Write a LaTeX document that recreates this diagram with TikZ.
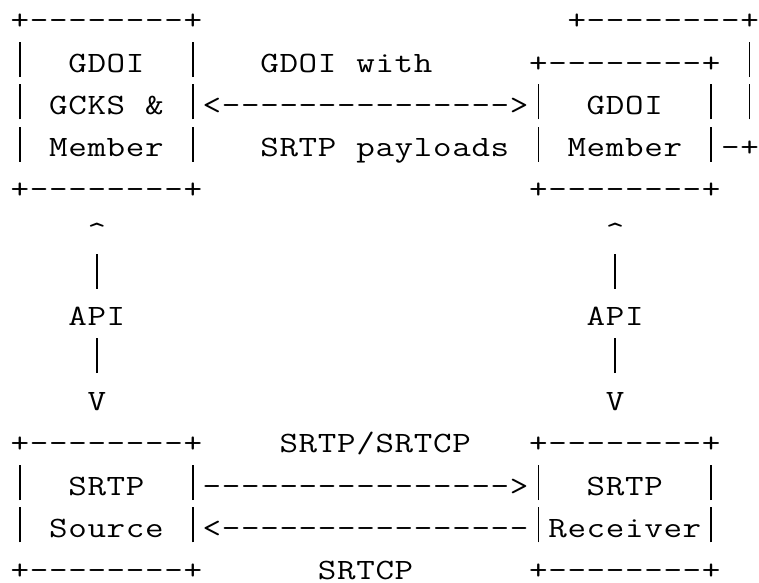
\documentclass[tikz,border=0pt]{standalone}
\usepackage{graphicx}
% fixed character grid: every glyph sits, slightly widened, in a cell of equal width;
% the vertical bar is drawn as a rule spanning almost the whole line
\newlength\cellw
\setlength\cellw{19.2pt}
\def\cellof#1{\makebox[\cellw][c]{\ifx#1|\rule[-5pt]{1.6pt}{35pt}\else\scalebox{1.22}[1]{#1}\fi}}
\def\gridrow#1{\ifx#1\relax\else\cellof{#1}\expandafter\gridrow\fi}
\newcommand\gr[1]{\gridrow#1\relax}
\newcommand\sk[1]{\hspace*{#1\cellw}}
\begin{document}
\begin{tikzpicture}[x=1pt,y=1pt,
  asciirow/.style={anchor=base west,inner sep=0pt,outer sep=0pt,
    font=\ttfamily\fontsize{29.5}{35}\selectfont,text=black}]
\fill[white] (0,0) rectangle (759,-582);
\useasboundingbox (0,0) rectangle (759,-582);
\def\xo{10.4}
\def\lh{42.3}
\def\yb{29.7}
\node[asciirow] (r1)  at (\xo,{-(\yb+0*\lh)})  {\gr{+--------+}\sk{19}\gr{+--------+}};
\node[asciirow] (r2)  at (\xo,{-(\yb+1*\lh)})  {\gr{|~~GDOI~~|}\sk{3}\gr{GDOI~with}\sk{5}\gr{+--------+~|}};
\node[asciirow] (r3)  at (\xo,{-(\yb+2*\lh)})  {\gr{|~GCKS~\&~|<}\gr{---------------}\gr{>|~~GDOI~~|~|}};
\node[asciirow] (r4)  at (\xo,{-(\yb+3*\lh)})  {\gr{|~Member~|}\sk{3}\gr{SRTP~payloads~|~Member~|-+}};
\node[asciirow] (r5)  at (\xo,{-(\yb+4*\lh)})  {\gr{+--------+}\sk{17}\gr{+--------+}};
\node[asciirow] (r6)  at (\xo,{-(\yb+5*\lh)})  {\sk{4}\gr{\textasciicircum}\sk{26}\gr{\textasciicircum}};
\node[asciirow] (r7)  at (\xo,{-(\yb+6*\lh)})  {\sk{4}\gr{|}\sk{26}\gr{|}};
\node[asciirow] (r8)  at (\xo,{-(\yb+7*\lh)})  {\sk{3}\gr{API}\sk{24}\gr{API}};
\node[asciirow] (r9)  at (\xo,{-(\yb+8*\lh)})  {\sk{4}\gr{|}\sk{26}\gr{|}};
\node[asciirow] (r10) at (\xo,{-(\yb+9*\lh)})  {\sk{4}\gr{V}\sk{26}\gr{V}};
\node[asciirow] (r11) at (\xo,{-(\yb+10*\lh)}) {\gr{+--------+}\sk{4}\gr{SRTP/SRTCP}\sk{3}\gr{+--------+}};
\node[asciirow] (r12) at (\xo,{-(\yb+11*\lh)}) {\gr{|~~SRTP~~|}\gr{----------------}\gr{>|~~SRTP~~|}};
\node[asciirow] (r13) at (\xo,{-(\yb+12*\lh)}) {\gr{|~Source~|<}\gr{----------------}\gr{|Receiver|}};
\node[asciirow] (r14) at (\xo,{-(\yb+13*\lh)}) {\gr{+--------+}\sk{6}\gr{SRTCP}\sk{6}\gr{+--------+}};
\end{tikzpicture}
\end{document}
